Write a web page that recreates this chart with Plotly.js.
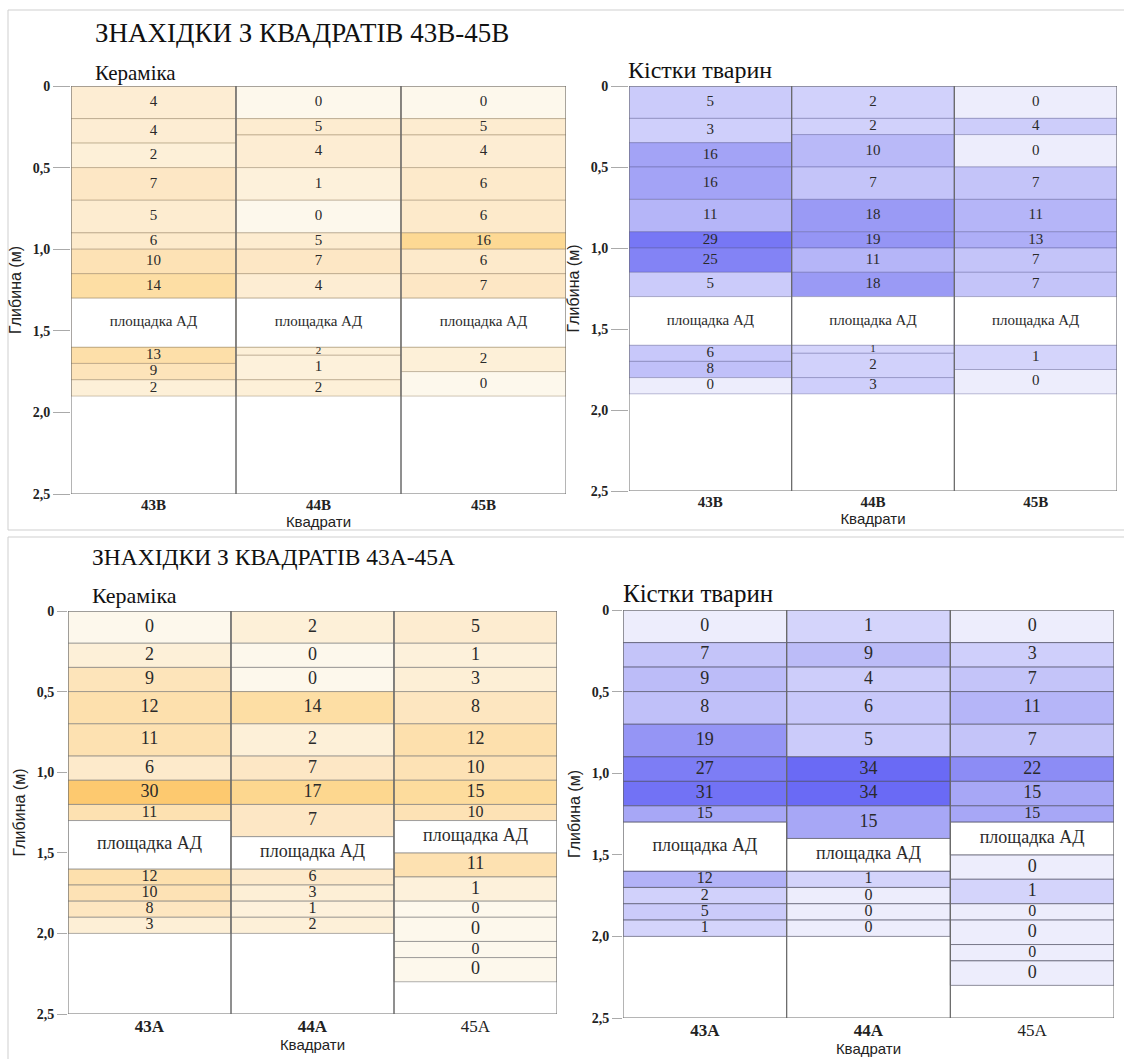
<!DOCTYPE html>
<html>
<head>
<meta charset="utf-8">
<script src="https://cdn.plot.ly/plotly-3.0.1.min.js"></script>
<style>html,body{margin:0;padding:0;background:#fff}#chart{width:1124px;height:1059px}</style>
</head>
<body>
<div id="chart"></div>
<script>
// ---------- DATA ----------
const squaresB = ['43В', '44В', '45В'];
const squaresA = ['43А', '44А', '45А'];
const depthTicks = [0, 0.5, 1, 1.5, 2, 2.5];
const depthTickText = ['0', '0,5', '1,0', '1,5', '2,0', '2,5'];
const platformLabel = 'площадка АД';

// layer boundaries (m) per square; null value = площадка АД
const depthB_43 = [0, 0.2, 0.35, 0.5, 0.7, 0.9, 1.0, 1.15, 1.3, 1.6, 1.7, 1.8, 1.9];
const depthB_44 = [0, 0.2, 0.3, 0.5, 0.7, 0.9, 1.0, 1.15, 1.3, 1.6, 1.65, 1.8, 1.9];
const depthB_45 = [0, 0.2, 0.3, 0.5, 0.7, 0.9, 1.0, 1.15, 1.3, 1.6, 1.75, 1.9];
const ceramicsB_43 = [4, 4, 2, 7, 5, 6, 10, 14, null, 13, 9, 2];
const ceramicsB_44 = [0, 5, 4, 1, 0, 5, 7, 4, null, 2, 1, 2];
const ceramicsB_45 = [0, 5, 4, 6, 6, 16, 6, 7, null, 2, 0];
const bonesB_43 = [5, 3, 16, 16, 11, 29, 25, 5, null, 6, 8, 0];
const bonesB_44 = [2, 2, 10, 7, 18, 19, 11, 18, null, 1, 2, 3];
const bonesB_45 = [0, 4, 0, 7, 11, 13, 7, 7, null, 1, 0];

const depthA_43 = [0, 0.2, 0.35, 0.5, 0.7, 0.9, 1.05, 1.2, 1.3, 1.6, 1.7, 1.8, 1.9, 2.0];
const depthA_44 = [0, 0.2, 0.35, 0.5, 0.7, 0.9, 1.05, 1.2, 1.4, 1.6, 1.7, 1.8, 1.9, 2.0];
const depthA_45 = [0, 0.2, 0.35, 0.5, 0.7, 0.9, 1.05, 1.2, 1.3, 1.5, 1.65, 1.8, 1.9, 2.05, 2.15, 2.3];
const ceramicsA_43 = [0, 2, 9, 12, 11, 6, 30, 11, null, 12, 10, 8, 3];
const ceramicsA_44 = [2, 0, 0, 14, 2, 7, 17, 7, null, 6, 3, 1, 2];
const ceramicsA_45 = [5, 1, 3, 8, 12, 10, 15, 10, null, 11, 1, 0, 0, 0, 0];
const bonesA_43 = [0, 7, 9, 8, 19, 27, 31, 15, null, 12, 2, 5, 1];
const bonesA_44 = [1, 9, 4, 6, 5, 34, 34, 15, null, 1, 0, 0, 0];
const bonesA_45 = [0, 3, 7, 11, 7, 22, 15, 15, null, 0, 1, 0, 0, 0, 0];

// ---------- STYLE ----------
const W = 1124, H = 1059;
const ceramicScale = [[0, '#fdf8ec'], [0.034, '#fdf1db'], [0.17, '#fdecd0'], [0.24, '#fde7c4'], [0.34, '#fde2b4'], [0.47, '#fddea4'], [0.55, '#fdd890'], [1, '#fdc96f']];
const bonesScale = [[0, '#ededfc'], [0.03, '#d3d3fb'], [0.15, '#cbcbfa'], [0.3, '#b8b8f8'], [0.45, '#a6a6f6'], [0.56, '#9595f5'], [0.8, '#7c7cf5'], [1, '#6a6af5']];
const SERIF = 'Liberation Serif';
const SANS = 'Liberation Sans';

const panels = [
  {cats: squaresB, depths: [depthB_43, depthB_44, depthB_45], vals: [ceramicsB_43, ceramicsB_44, ceramicsB_45],
   scale: ceramicScale, cmax: 30, px: [71, 566], py: [86, 494], line: 'rgba(150,130,100,0.45)', fs: 15, fsThin: 15, ticklen: 17, boldTicks: [true, true, true]},
  {cats: squaresB, depths: [depthB_43, depthB_44, depthB_45], vals: [bonesB_43, bonesB_44, bonesB_45],
   scale: bonesScale, cmax: 34, px: [629, 1117], py: [86, 491], line: 'rgba(90,90,150,0.4)', fs: 15, fsThin: 15, ticklen: 17, boldTicks: [true, true, true]},
  {cats: squaresA, depths: [depthA_43, depthA_44, depthA_45], vals: [ceramicsA_43, ceramicsA_44, ceramicsA_45],
   scale: ceramicScale, cmax: 30, px: [68, 557], py: [611, 1014], line: 'rgba(120,120,120,0.6)', fs: 18, fsThin: 16, ticklen: 10, boldTicks: [true, true, false]},
  {cats: squaresA, depths: [depthA_43, depthA_44, depthA_45], vals: [bonesA_43, bonesA_44, bonesA_45],
   scale: bonesScale, cmax: 34, px: [623, 1114], py: [610, 1018], line: 'rgba(70,70,90,0.6)', fs: 18, fsThin: 16, ticklen: 10, boldTicks: [true, true, false]}
];

const traces = [];
const layout = {
  width: W, height: H, margin: {l: 0, r: 0, t: 0, b: 0},
  paper_bgcolor: '#fff', plot_bgcolor: '#fff', showlegend: false, hovermode: false,
  barmode: 'overlay', annotations: [], shapes: []
};

panels.forEach((p, i) => {
  const n = i === 0 ? '' : String(i + 1);
  const xa = 'x' + n, ya = 'y' + n;
  const cell = {x: [], base: [], y: [], c: []};
  const plat = {x: [], base: [], y: []};
  const txt = {x: [], y: [], t: [], s: []};
  p.cats.forEach((cat, k) => {
    const d = p.depths[k], v = p.vals[k];
    v.forEach((val, j) => {
      const top = d[j], th = d[j + 1] - d[j];
      if (val === null) { plat.x.push(cat); plat.base.push(top); plat.y.push(th); }
      else { cell.x.push(cat); cell.base.push(top); cell.y.push(th); cell.c.push(val); }
      txt.x.push(cat); txt.y.push(top + th / 2);
      txt.t.push(val === null ? platformLabel : String(val));
      txt.s.push(th < 0.08 ? 11 : (th < 0.12 ? p.fsThin : p.fs));
    });
  });
  traces.push({type: 'bar', xaxis: xa, yaxis: ya, x: cell.x, base: cell.base, y: cell.y, width: 1,
    marker: {color: cell.c, colorscale: p.scale, cmin: 0, cmax: p.cmax, showscale: false, line: {color: p.line, width: 1}},
    hoverinfo: 'skip', textposition: 'none'});
  traces.push({type: 'bar', xaxis: xa, yaxis: ya, x: plat.x, base: plat.base, y: plat.y, width: 1,
    marker: {color: '#ffffff', line: {color: p.line, width: 1}}, hoverinfo: 'skip', textposition: 'none'});
  traces.push({type: 'bar', xaxis: xa, yaxis: ya, x: p.cats, base: p.cats.map(() => 0),
    y: p.cats.map(() => depthTicks[depthTicks.length - 1]), width: 1,
    marker: {color: 'rgba(0,0,0,0)', line: {color: '#6a6a6a', width: 1}}, hoverinfo: 'skip', textposition: 'none'});
  traces.push({type: 'scatter', mode: 'text', xaxis: xa, yaxis: ya, x: txt.x, y: txt.y, text: txt.t,
    textposition: 'middle center', textfont: {family: SERIF, size: txt.s, color: '#2a2a2a'},
    hoverinfo: 'skip', cliponaxis: false});

  layout['xaxis' + n] = {
    domain: [p.px[0] / W, p.px[1] / W], anchor: ya, type: 'category', range: [-0.5, 2.5],
    tickvals: p.cats, ticktext: p.cats.map((c, k) => p.boldTicks[k] ? '<b>' + c + '</b>' : c),
    tickfont: {family: SERIF, size: i < 2 ? 15 : 17, color: '#222'}, ticks: '', showgrid: false, zeroline: false,
    showline: false, fixedrange: true,
    title: {text: 'Квадрати', font: {family: SANS, size: 15, color: '#222'}, standoff: 2}
  };
  layout['yaxis' + n] = {
    domain: [1 - p.py[1] / H, 1 - p.py[0] / H], anchor: xa, range: [depthTicks[depthTicks.length - 1], depthTicks[0]],
    tickvals: depthTicks, ticktext: depthTickText, ticks: 'outside', ticklen: p.ticklen, tickcolor: '#aaa', tickwidth: 1,
    tickfont: {family: SERIF, size: 14, color: '#222', weight: 'bold'}, showgrid: false, zeroline: false,
    showline: false, fixedrange: true,
    title: {text: 'Глибина (м)', font: {family: SANS, size: 16, color: '#222'}, standoff: 7}
  };
});

// section frames
layout.shapes.push({type: 'rect', xref: 'paper', yref: 'paper', x0: 8 / W, x1: 1.01, y0: 1 - 530 / H, y1: 1 - 10 / H, line: {color: '#cfcfcf', width: 1}});
layout.shapes.push({type: 'rect', xref: 'paper', yref: 'paper', x0: 8 / W, x1: 1.01, y0: -0.01, y1: 1 - 537 / H, line: {color: '#cfcfcf', width: 1}});

function ann(text, px, py, size) {
  layout.annotations.push({text: text, xref: 'paper', yref: 'paper', x: px / W, y: 1 - py / H,
    xanchor: 'left', yanchor: 'middle', showarrow: false, font: {family: SERIF, size: size, color: '#111'}});
}
ann('ЗНАХІДКИ З КВАДРАТІВ 43В-45В', 93, 33, 27);
ann('Кераміка', 93, 73, 21);
ann('Кістки тварин', 626, 70, 24);
ann('ЗНАХІДКИ З КВАДРАТІВ 43А-45А', 90, 557, 23.5);
ann('Кераміка', 90, 595, 22);
ann('Кістки тварин', 621, 593, 25);

Plotly.newPlot('chart', traces, layout, {displayModeBar: false, staticPlot: true});
</script>
</body>
</html>
